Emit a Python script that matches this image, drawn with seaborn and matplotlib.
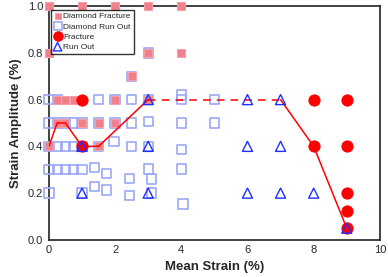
import numpy as np
import pandas as pd
import seaborn as sns
import matplotlib
matplotlib.use('Agg')
import matplotlib.pyplot as plt

# Diamond fracture (filled pink squares)
dia_frac_x = [0, 1, 2, 3, 4, 0, 3, 4, 2.5, 0.25, 0.5, 0.75, 2, 3, 0.25, 0.5, 1, 1.5, 2, 0, 1.5]
dia_frac_y = [1.0, 1.0, 1.0, 1.0, 1.0, 0.8, 0.8, 0.8, 0.7, 0.6, 0.6, 0.6, 0.6, 0.6,
              0.5, 0.5, 0.5, 0.5, 0.5, 0.4, 0.4]

# Diamond run out (open light blue squares)
dia_run_x = [3, 2.5,
             0, 0.25, 1.5, 2, 2.5, 3, 4, 4, 5,
             0, 0.25, 0.5, 0.75, 1, 1.5, 2, 2.5, 3, 4, 5,
             0, 0.25, 0.5, 0.75, 1, 1.5, 1.97, 2.5, 3, 4,
             0, 0.25, 0.5, 0.75, 1, 1.37, 1.75, 2.43, 3.0, 3.1, 4.0,
             0, 1, 1.37, 1.75, 2.43, 3.1, 4.05]
dia_run_y = [0.8, 0.7,
             0.6, 0.6, 0.6, 0.6, 0.6, 0.6, 0.6, 0.62, 0.6,
             0.5, 0.5, 0.5, 0.5, 0.5, 0.5, 0.5, 0.5, 0.505, 0.5, 0.5,
             0.4, 0.4, 0.4, 0.4, 0.4, 0.4, 0.42, 0.4, 0.4, 0.388,
             0.3, 0.3, 0.3, 0.3, 0.3, 0.31, 0.285, 0.264, 0.303, 0.26, 0.303,
             0.2, 0.2, 0.228, 0.214, 0.19, 0.2, 0.154]

# Fracture (red circles)
frac_x = [1, 1, 8, 9, 8, 9, 9, 9, 9]
frac_y = [0.6, 0.4, 0.6, 0.6, 0.4, 0.4, 0.2, 0.125, 0.05]

# Run out (open blue triangles)
run_x = [3, 6, 7, 1, 3, 6, 7, 1, 3, 6, 7, 8, 9]
run_y = [0.6, 0.6, 0.6, 0.4, 0.4, 0.4, 0.4, 0.2, 0.2, 0.2, 0.2, 0.2, 0.05]

# fatigue limit curve
curve1_x = [0, 0.25, 0.5, 1, 1.5, 3]
curve1_y = [0.4, 0.5, 0.5, 0.4, 0.4, 0.6]
dash_x = [3, 7]
dash_y = [0.6, 0.6]
curve2_x = [7, 8, 9]
curve2_y = [0.6, 0.4, 0.05]

sns.set_style('white')
plt.rcParams['font.family'] = ['Liberation Sans', 'DejaVu Sans']

fig, ax = plt.subplots(figsize=(3.88, 2.77), dpi=100)
fig.subplots_adjust(left=0.126, right=0.979, bottom=0.134, top=0.978)

sns.scatterplot(x=dia_run_x, y=dia_run_y, ax=ax, marker='s', s=45,
                facecolor='none', edgecolor='#9aa8f5', linewidth=1.2,
                label='Diamond Run Out', zorder=3, clip_on=False)
sns.scatterplot(x=dia_frac_x, y=dia_frac_y, ax=ax, marker='s', s=32,
                color='#f0808a', edgecolor='#f5a0a8', linewidth=0.8,
                label='Diamond Fracture', zorder=4, clip_on=False)

sns.lineplot(x=curve1_x, y=curve1_y, ax=ax, sort=False, color='red', lw=1.1, zorder=5)
sns.lineplot(x=dash_x, y=dash_y, ax=ax, sort=False, color='red', lw=1.1,
             linestyle=(0, (5, 4)), zorder=5)
sns.lineplot(x=curve2_x, y=curve2_y, ax=ax, sort=False, color='red', lw=1.1, zorder=5)

sns.scatterplot(x=frac_x, y=frac_y, ax=ax, marker='o', s=66, color='red',
                edgecolor='red', label='Fracture', zorder=6, clip_on=False)
sns.scatterplot(x=run_x, y=run_y, ax=ax, marker='^', s=52, facecolor='none',
                edgecolor='#1f2fff', linewidth=1.0, label='Run Out', zorder=7,
                clip_on=False)

ax.set_xlim(0, 10)
ax.set_ylim(0, 1.0)
ax.set_xticks([0, 2, 4, 6, 8, 10])
ax.set_yticks([0, 0.2, 0.4, 0.6, 0.8, 1.0])
ax.set_yticklabels(['0.0', '0.2', '0.4', '0.6', '0.8', '1.0'])
ax.tick_params(direction='in', length=3, width=1, labelsize=8, pad=4)
ax.set_xlabel('Mean Strain (%)', fontsize=9.5, fontweight='bold')
ax.set_ylabel('Strain Amplitude (%)', fontsize=9.5, fontweight='bold')
for sp in ax.spines.values():
    sp.set_color('#222222')
    sp.set_linewidth(1.2)

handles, labels = ax.get_legend_handles_labels()
order = [labels.index(k) for k in ['Diamond Fracture', 'Diamond Run Out', 'Fracture', 'Run Out']]
leg = ax.legend([handles[i] for i in order], [labels[i] for i in order],
                loc='upper left', bbox_to_anchor=(0.006, 0.985), fontsize=6.0,
                frameon=True, fancybox=False, edgecolor='black',
                handletextpad=0.25, borderpad=0.35, labelspacing=0.28,
                handlelength=0.9, borderaxespad=0.0, markerscale=0.85)
leg.get_frame().set_linewidth(1.0)

fig.savefig('out.png', dpi=100)
